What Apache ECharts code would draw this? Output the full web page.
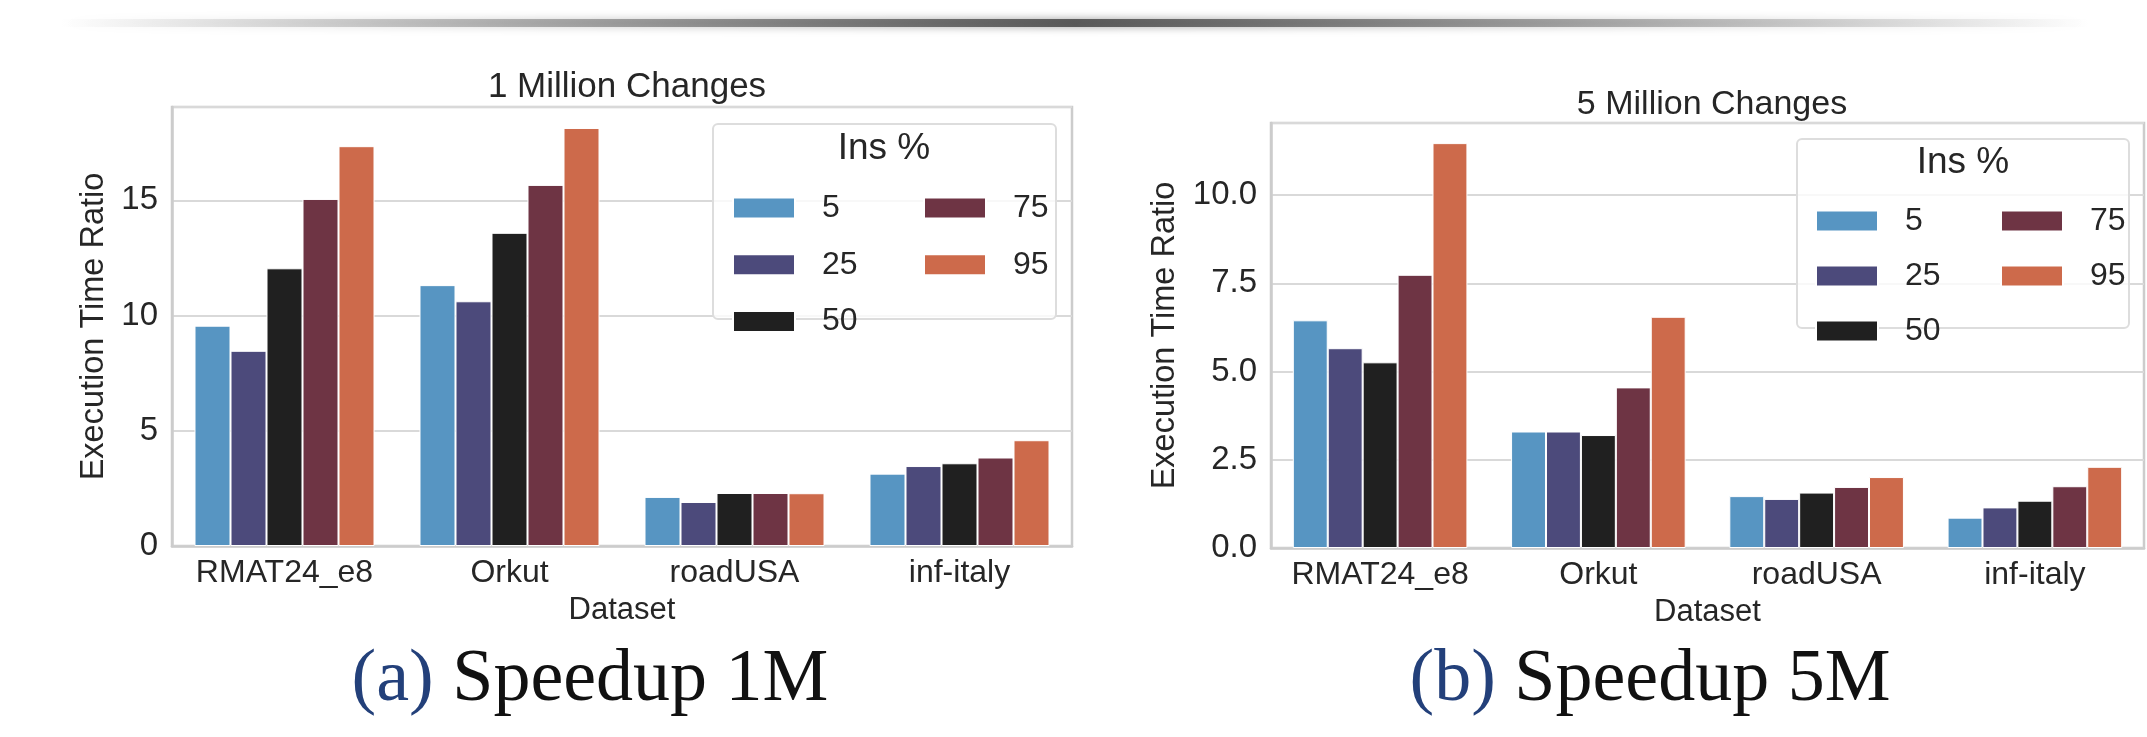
<!DOCTYPE html>
<html>
<head>
<meta charset="utf-8">
<script src="https://cdn.jsdelivr.net/npm/echarts@6/dist/echarts.min.js"></script>
<style>
html, body { margin: 0; padding: 0; background: #fff; }
#main { width: 2147px; height: 737px; }
</style>
</head>
<body>
<div id="main"></div>
<script>
//=============== data =================
var categories = ['RMAT24_e8', 'Orkut', 'roadUSA', 'inf-italy'];
var insPct = ['5', '25', '50', '75', '95'];
var colors = ['#5795c2', '#4c4a7b', '#202020', '#6e3444', '#cd6a4b'];

// 1 Million Changes
var m1Ins5 = [9.56, 11.32, 2.13, 3.14];
var m1Ins25 = [8.47, 10.62, 1.91, 3.47];
var m1Ins50 = [12.05, 13.59, 2.30, 3.59];
var m1Ins75 = [15.06, 15.67, 2.30, 3.84];
var m1Ins95 = [17.35, 18.14, 2.29, 4.59];

// 5 Million Changes
var m5Ins5 = [6.45, 3.30, 1.47, 0.86];
var m5Ins25 = [5.66, 3.30, 1.39, 1.15];
var m5Ins50 = [5.26, 3.20, 1.57, 1.34];
var m5Ins75 = [7.74, 4.55, 1.73, 1.75];
var m5Ins95 = [11.47, 6.55, 2.01, 2.30];

var m1Data = [m1Ins5, m1Ins25, m1Ins50, m1Ins75, m1Ins95];
var m5Data = [m5Ins5, m5Ins25, m5Ins50, m5Ins75, m5Ins95];

var txtColor = '#262626';
var sans = 'Liberation Sans, Arial, sans-serif';

//=============== axes =================
function makeX(gridIndex) {
    return {
        type: 'category',
        gridIndex: gridIndex,
        data: categories,
        name: 'Dataset',
        nameLocation: 'middle',
        nameGap: 64,
        nameTextStyle: { fontSize: 31, color: txtColor, fontFamily: sans, verticalAlign: 'middle' },
        axisLine: { show: true, lineStyle: { color: '#cccccc', width: 2.5 } },
        axisTick: { show: false },
        axisLabel: { interval: 0, fontSize: 32, color: txtColor, fontFamily: sans, margin: 11 },
        splitLine: { show: false }
    };
}

function makeY(gridIndex, max, interval, nameGap, fmt) {
    return {
        type: 'value',
        gridIndex: gridIndex,
        min: 0,
        max: max,
        interval: interval,
        name: 'Execution Time Ratio',
        nameLocation: 'middle',
        nameGap: nameGap,
        nameTextStyle: { fontSize: 32.5, color: txtColor, fontFamily: sans, verticalAlign: 'middle' },
        axisLine: { show: true, lineStyle: { color: '#cccccc', width: 2.5 } },
        axisTick: { show: false },
        axisLabel: {
            fontSize: 33, color: txtColor, fontFamily: sans, margin: 14,
            showMaxLabel: false,
            formatter: fmt
        },
        splitLine: { show: true, lineStyle: { color: '#d9d9d9', width: 2 } }
    };
}

//=============== series =================
var series = [];
for (var i = 0; i < insPct.length; i++) {
    series.push({
        name: insPct[i],
        type: 'bar',
        xAxisIndex: 0,
        yAxisIndex: 0,
        data: m1Data[i],
        barGap: 0,
        barCategoryGap: '20%',
        itemStyle: { color: colors[i], borderColor: '#ffffff', borderWidth: 1 }
    });
}
for (var j = 0; j < insPct.length; j++) {
    series.push({
        name: insPct[j],
        type: 'bar',
        xAxisIndex: 1,
        yAxisIndex: 1,
        data: m5Data[j],
        barGap: 0,
        barCategoryGap: '20%',
        itemStyle: { color: colors[j], borderColor: '#ffffff', borderWidth: 1 }
    });
}

//=============== legends =================
function makeLegend(data, left, top, gap) {
    return {
        orient: 'vertical',
        left: left,
        top: top,
        data: data,
        itemWidth: 62,
        itemHeight: 21,
        itemGap: gap,
        icon: 'rect',
        selectedMode: false,
        z: 20,
        textStyle: { fontSize: 32, color: txtColor, fontFamily: sans, padding: [0, 0, 0, 22] }
    };
}

function legendBox(x, y, w, h, titleX, titleY) {
    return [{
        type: 'rect',
        z: 15,
        shape: { x: x, y: y, width: w, height: h, r: 5 },
        style: { fill: 'rgba(255,255,255,0.8)', stroke: '#dddddd', lineWidth: 2 }
    }, {
        type: 'text',
        z: 16,
        x: titleX,
        y: titleY,
        style: {
            text: 'Ins %', fontSize: 37, fontFamily: sans, fill: txtColor,
            align: 'center', verticalAlign: 'middle'
        }
    }];
}

function caption(letter, label, cx) {
    return {
        type: 'text',
        x: cx,
        y: 681,
        style: {
            text: '{a|(' + letter + ')}{b|\u00a0' + label + '}',
            align: 'center',
            verticalAlign: 'middle',
            rich: {
                a: { fontSize: 74, fontFamily: 'Liberation Serif, serif', fill: '#23407a' },
                b: { fontSize: 74, fontFamily: 'Liberation Serif, serif', fill: '#111111' }
            }
        }
    };
}

var graphics = [{
    // shaded rule above the figure
    type: 'rect',
    shape: { x: 60, y: 19, width: 2030, height: 8 },
    style: {
        fill: new echarts.graphic.LinearGradient(0, 0, 1, 0, [
            { offset: 0, color: 'rgba(80,80,80,0)' },
            { offset: 0.5, color: 'rgba(70,70,70,0.85)' },
            { offset: 1, color: 'rgba(80,80,80,0)' }
        ]),
        shadowBlur: 9,
        shadowColor: 'rgba(0,0,0,0.45)'
    }
}];
graphics = graphics.concat(legendBox(713, 124, 343, 195, 884, 149));
graphics = graphics.concat(legendBox(1797, 139, 332, 189, 1963, 163));
graphics.push(caption('a', 'Speedup 1M', 590));
graphics.push(caption('b', 'Speedup 5M', 1650));

var myChart = echarts.init(document.getElementById('main'));
var option = {
    backgroundColor: '#ffffff',
    animation: false,
    color: colors,
    title: [{
        text: '1 Million Changes',
        left: 622, top: 82,
        textAlign: 'center', textVerticalAlign: 'middle',
        textStyle: { fontSize: 35, fontWeight: 'normal', color: txtColor, fontFamily: sans }
    }, {
        text: '5 Million Changes',
        left: 1707, top: 100,
        textAlign: 'center', textVerticalAlign: 'middle',
        textStyle: { fontSize: 34, fontWeight: 'normal', color: txtColor, fontFamily: sans }
    }],
    grid: [
        { left: 172, top: 107, width: 900, height: 439, show: true, borderColor: '#cccccc', borderWidth: 2.5 },
        { left: 1271, top: 123, width: 873, height: 425, show: true, borderColor: '#cccccc', borderWidth: 2.5 }
    ],
    xAxis: [makeX(0), makeX(1)],
    yAxis: [
        makeY(0, 19.05, 5, 78, function (v) { return String(v); }),
        makeY(1, 12.04, 2.5, 106, function (v) { return v.toFixed(1); })
    ],
    legend: [
        makeLegend(['5', '25', '50'], 727, 187, 24.7),
        makeLegend(['75', '95'], 918, 187, 24.7),
        makeLegend(['5', '25', '50'], 1810, 200, 23),
        makeLegend(['75', '95'], 1995, 200, 23)
    ],
    graphic: graphics,
    series: series
};
myChart.setOption(option);
</script>
</body>
</html>
